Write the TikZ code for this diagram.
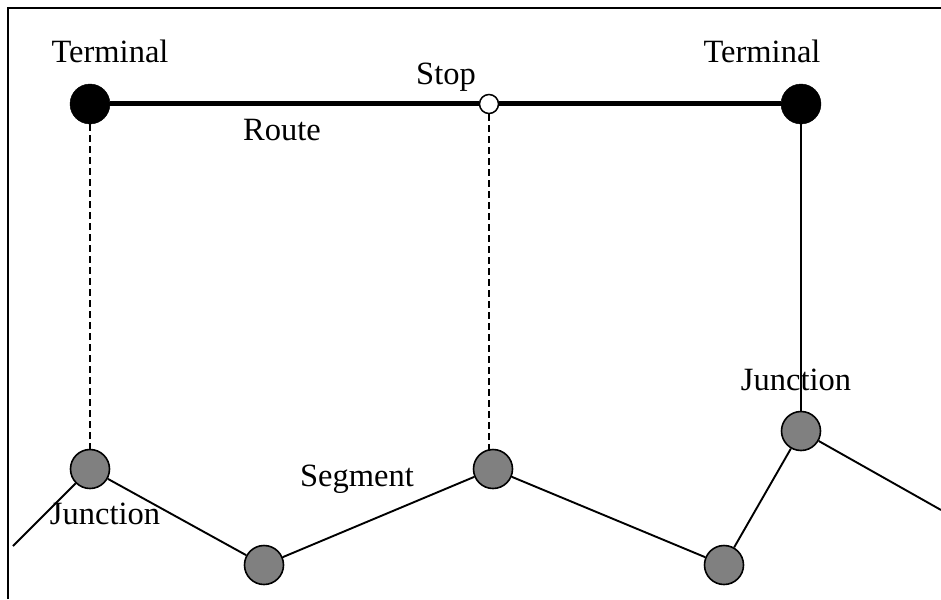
\documentclass[tikz,border=0pt]{standalone}
\usepackage{fontspec}
\setmainfont{Liberation Serif}
\definecolor{nodegray}{RGB}{128,128,128}
\begin{document}
\begin{tikzpicture}[x=1pt,y=-1pt,
  terminal/.style={circle,fill=black,draw=black,inner sep=0pt,minimum size=40pt},
  stopnode/.style={circle,fill=white,draw=black,line width=1.5pt,inner sep=0pt,minimum size=19pt},
  junction/.style={circle,fill=nodegray,draw=black,line width=1.6pt,inner sep=0pt,minimum size=39pt},
  lbl/.style={anchor=base,inner sep=0pt,font=\fontsize{32.5}{38}\selectfont},
  route/.style={line width=5pt},
  link/.style={line width=1.9pt},
  drop/.style={line width=1.6pt,dash pattern=on 7pt off 4pt}]
\useasboundingbox (0,0) rectangle (941,599);
\draw[line width=2pt] (8,599) -- (8,8) -- (941,8);
% nodes
\node[terminal] (tl) at (90,104) {};
\node[terminal] (tr) at (801,104) {};
\node[stopnode] (st) at (489,104) {};
\node[junction] (jl) at (90,469) {};
\node[junction] (b1) at (264,565) {};
\node[junction] (js) at (493,469) {};
\node[junction] (b2) at (724,565) {};
\node[junction] (jr) at (801,431) {};
\coordinate (el) at (13,546);
\coordinate (er) at (941,510);
\coordinate (sd) at (489,451);
% connectors
\draw[route] (tl) -- (st);
\draw[route] (st) -- (tr);
\draw[drop] (tl) -- (jl);
\draw[drop] (st) -- (sd);
\draw[link] (tr) -- (jr);
\draw[link] (el) -- (jl);
\draw[link] (jl) -- (b1);
\draw[link] (b1) -- (js);
\draw[link] (js) -- (b2);
\draw[link] (b2) -- (jr);
\draw[link] (jr) -- (er);
% labels
\node[lbl] (lt1) at (110,63) {Terminal};
\node[lbl] (lt2) at (762,63) {Terminal};
\node[lbl] (ls) at (446,85) {Stop};
\node[lbl] (lr) at (282,140) {Route};
\node[lbl] (lj1) at (105,524) {Junction};
\node[lbl] (lsg) at (357,486) {Segment};
\node[lbl] (lj2) at (796,390) {Junction};
\end{tikzpicture}
\end{document}
